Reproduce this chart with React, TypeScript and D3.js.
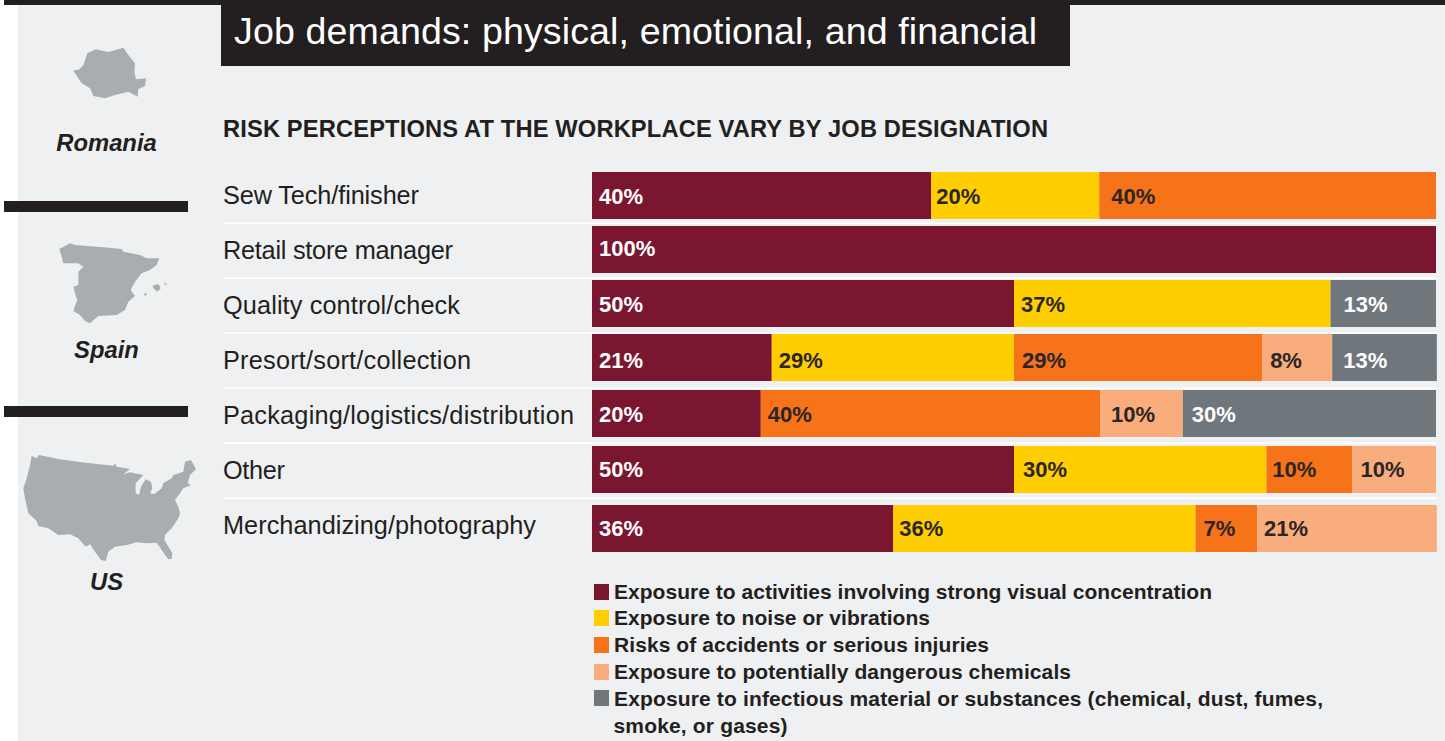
import React from "react";
import * as d3 from "d3";

const categories = ["Sew Tech/finisher","Retail store manager","Quality control/check","Presort/sort/collection","Packaging/logistics/distribution","Other","Merchandizing/photography"];
const seriesNames = ["Exposure to activities involving strong visual concentration","Exposure to noise or vibrations","Risks of accidents or serious injuries","Exposure to potentially dangerous chemicals","Exposure to infectious material or substances (chemical, dust, fumes,"];
const visual = [40.2,100,50,21.3,20,50,35.7];
const noise = [19.9,0,37.5,28.7,0,29.9,35.8];
const accidents = [39.9,0,0,29.4,40.2,10.2,7.3];
const chemicals = [0,0,0,8.3,9.8,9.9,21.3];
const infectious = [0,0,12.5,12.4,30,0,0];
const labelVisual = ["40%","100%","50%","21%","20%","50%","36%"];
const labelNoise = ["20%","","37%","29%","","30%","36%"];
const labelAccidents = ["40%","","","29%","40%","10%","7%"];
const labelChemicals = ["","","","8%","10%","10%","21%"];
const labelInfectious = ["","","13%","13%","30%","",""];
const colors = ["#7a162f","#ffce00","#f7731a","#f9ad7c","#6f767c"];
const textColors = ["#ffffff","#2b2526","#2b2526","#2b2526","#ffffff"];

// layout of the page
const rowTops = [172,226,280,334,390,446,505];
const labelDrops = [31.5,29.5,31.5,33.5,31.5,30.5,30.5];
const labelInset = [
  [7,7,7,7,7,7,7],
  [5,7,7,7,7,9,6],
  [12,7,7,8,7,6,8],
  [7,7,7,8,11,8,7],
  [7,7,13,11,9,7,7],
];
const categoryWidths = [196,230,237,248,351,62,313];
const legendTops = [584,610,637,664,690];
const legendBaselines = [599,625,652,679,706];
const legendWidths = [598,316,375,457,709];
const F = "'Liberation Sans', Arial, sans-serif";
const INK = "#231f20";

// decorative silhouettes, traced at 3x
const romania: [number,number][] = [[220,212],[238,208],[250,195],[262,160],[288,148],[325,156],[370,143],[385,165],[405,190],[403,215],[408,238],[438,235],[435,258],[415,268],[413,290],[385,275],[345,285],[315,295],[280,288],[270,265],[245,250],[235,235]];
const spain: [number,number][] = [[58,42],[90,25],[105,30],[190,37],[245,42],[250,50],[300,60],[320,70],[358,70],[350,90],[330,105],[305,115],[285,140],[272,165],[285,183],[265,200],[255,225],[230,240],[175,243],[150,265],[135,258],[120,240],[100,228],[108,205],[112,195],[105,175],[100,155],[115,150],[115,110],[130,95],[115,85],[70,85],[65,65]];
const mallorca: [number,number][] = [[338,152],[355,147],[362,160],[352,170],[340,160]];
const menorca: [number,number][] = [[372,142],[382,148],[375,150]];
const ibiza: [number,number][] = [[310,178],[320,173],[318,183]];
const usa: [number,number][] = [[50,33],[65,40],[72,30],[130,42],[200,52],[295,62],[300,55],[305,65],[345,72],[325,88],[345,82],[385,90],[362,115],[362,145],[372,150],[378,125],[392,103],[408,110],[412,130],[405,145],[418,147],[440,130],[445,115],[470,100],[475,90],[505,80],[510,50],[528,45],[543,72],[525,90],[518,115],[528,120],[505,130],[495,145],[480,165],[490,185],[495,205],[490,220],[470,250],[450,270],[448,285],[472,325],[470,342],[460,343],[440,315],[425,293],[395,295],[365,292],[335,300],[300,305],[280,320],[272,348],[258,345],[240,320],[225,298],[212,305],[190,280],[165,268],[130,270],[100,250],[70,243],[65,228],[40,205],[30,160],[25,130],[35,100],[45,60]];
const traced = (ox: number, oy: number) => d3.line().x((p) => ox + p[0] / 3).y((p) => oy + p[1] / 3).curve(d3.curveLinearClosed);
const maps: [[number,number][], number, number][] = [[romania,0,0],[spain,40,235],[mallorca,40,235],[menorca,40,235],[ibiza,40,235],[usa,15,445]];

export default function App() {
  const x = d3.scaleLinear().domain([0,100]).range([592,1436]);
  const barHeight = 47;
  const columns = [visual,noise,accidents,chemicals,infectious];
  const labels = [labelVisual,labelNoise,labelAccidents,labelChemicals,labelInfectious];
  const stacks = d3.stack<number>().keys(d3.range(5) as any).value((i: number, k: any) => columns[k][i])(d3.range(7));
  return (
    <svg width={1445} height={741} style={{position:"absolute",left:0,top:0,background:"#fff"}} fontFamily={F}>
      <rect x={18} y={0} width={1427} height={741} fill="#eff0f2"/>
      <rect x={4} y={0} width={1441} height={5} fill={INK}/>
      <rect x={221} y={0} width={849} height={66} fill={INK}/>
      <text x={234} y={44} fontSize={37.6} fill="#fff" textLength={803}>Job demands: physical, emotional, and financial</text>
      <text x={223} y={137} fontSize={23.7} fontWeight={700} fill={INK} textLength={825}>RISK PERCEPTIONS AT THE WORKPLACE VARY BY JOB DESIGNATION</text>

      <rect x={4} y={201} width={184} height={11} fill={INK}/>
      <rect x={4} y={406} width={184} height={11} fill={INK}/>
      {maps.map(([p,ox,oy],i)=><path key={i} d={traced(ox,oy)(p) as string} fill="#a8aeaf"/>)}
      {([["Romania",151],["Spain",358],["US",590]] as [string,number][]).map(([t,y])=>
        <text key={t} x={106.5} y={y} textAnchor="middle" fontSize={23.8} fontWeight={700} fontStyle="italic" fill={INK}>{t}</text>)}

      {categories.slice(0,-1).map((c,i)=><line key={c} x1={223} x2={1437} y1={223.3+55*i} y2={223.3+55*i} stroke="#fff" strokeWidth={1.5}/>)}

      {categories.map((c,i)=>(
        <text key={c} x={223} y={204+55*i} fontSize={25.3} fill={INK} textLength={categoryWidths[i]}>{c}</text>
      ))}
      {stacks.map((s,k)=>s.map((d,i)=>{
        const w = x(d[1])-x(d[0]);
        if (w<=0) return null;
        return <g key={k+"-"+i}>
          <rect x={x(d[0])} y={rowTops[i]} width={w} height={barHeight} fill={colors[k]}/>
          <text x={x(d[0])+labelInset[k][i]} y={rowTops[i]+labelDrops[i]} fontSize={22} fontWeight={700} fill={textColors[k]}>{labels[k][i]}</text>
        </g>;
      }))}
      {seriesNames.map((n,i)=>(
        <g key={n}>
          <rect x={594} y={legendTops[i]} width={15} height={16} fill={colors[i]}/>
          <text x={614} y={legendBaselines[i]} fontSize={21} fontWeight={700} fill={INK} textLength={legendWidths[i]}>{n}</text>
        </g>
      ))}
      <text x={613.5} y={733} fontSize={21} fontWeight={700} fill={INK} textLength={174}>smoke, or gases)</text>
    </svg>
  );
}
